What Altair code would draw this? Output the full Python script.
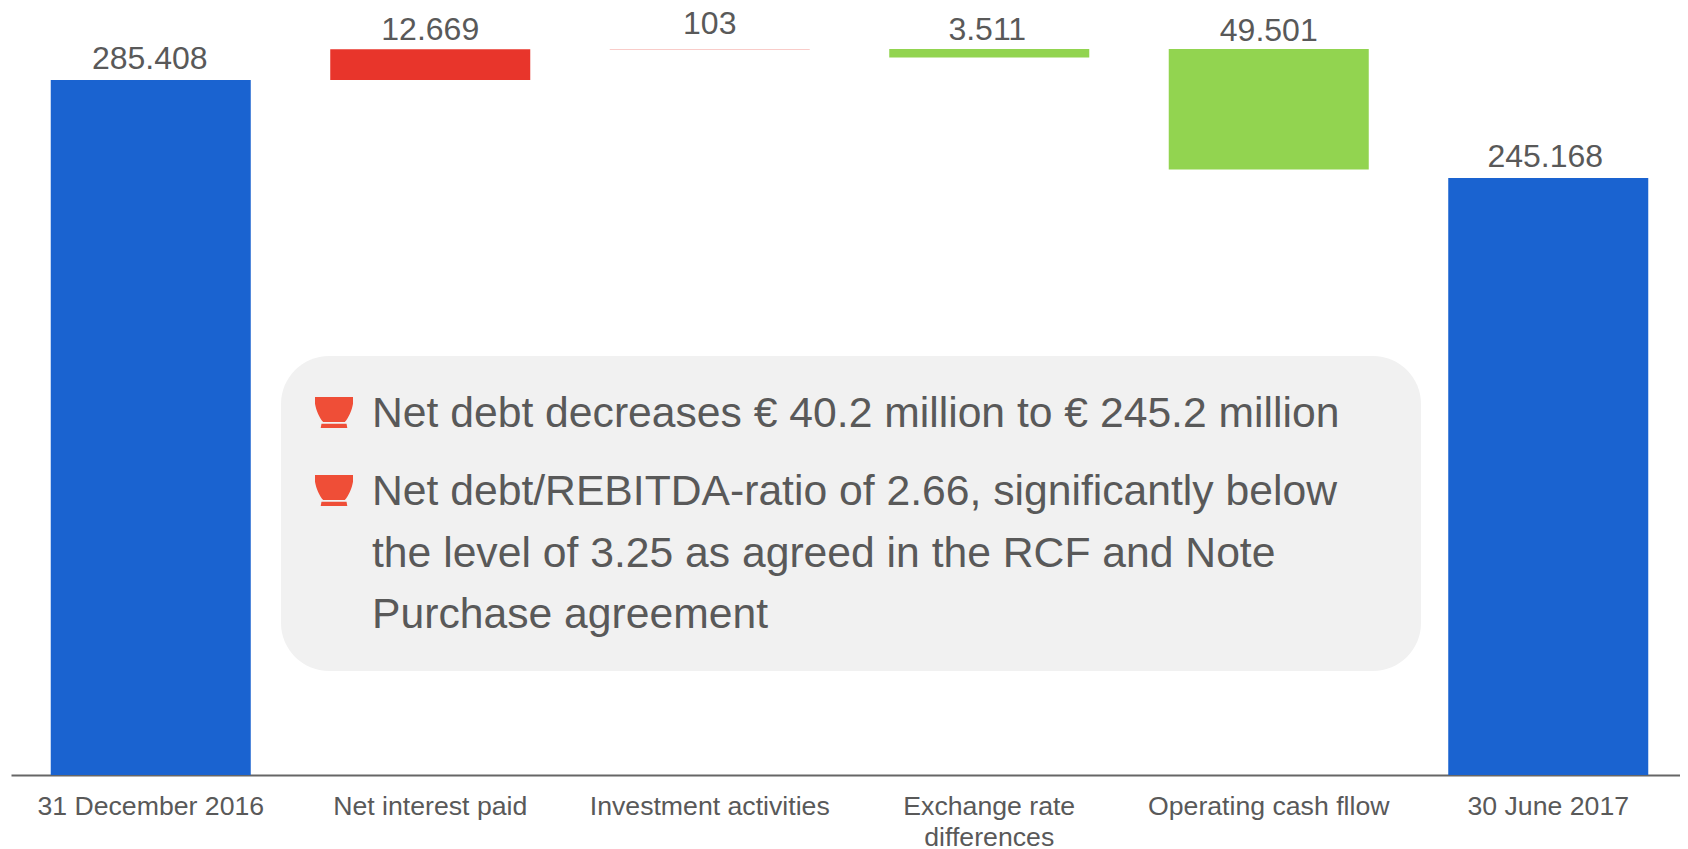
import altair as alt
import pandas as pd

categories = ["31 December 2016", "Net interest paid", "Investment activities",
              "Exchange rate|differences", "Operating cash fllow", "30 June 2017"]
starts = [0, 285408, 298077, 298180, 298180, 0]
ends = [285408, 298077, 298180, 294669, 248679, 245168]
labels = ["285.408", "12.669", "103", "3.511", "49.501", "245.168"]
kinds = ["total", "up", "up", "down", "down", "total"]
label_lift = [11, 9, 14.5, 9, 8, 11]
label_shift = [-1, 0, 0, -2, 0, -3]
bullet_lines = ["Net debt decreases € 40.2 million to € 245.2 million",
                "Net debt/REBITDA-ratio of 2.66, significantly below\nthe level of 3.25 as agreed in the RCF and Note\nPurchase agreement"]

df = pd.DataFrame({"cat": categories, "start": starts, "end": ends, "label": labels,
                   "kind": kinds})
df["top"] = df[["start", "end"]].max(axis=1)

FONT = "Liberation Sans"
TXT = "#595959"
BOWL = ("M-0.5,-0.408 L0.5,-0.408 L0.5,-0.233 C0.47,-0.05 0.38,0.14 0.285,0.25 L-0.285,0.25 "
        "C-0.38,0.14 -0.47,-0.05 -0.5,-0.233 Z "
        "M-0.33,0.294 L0.33,0.294 L0.35,0.408 L-0.35,0.408 Z")

x_scale = alt.Scale(range=[0, 1677], paddingInner=0.2844, paddingOuter=0.1422)
x = alt.X("cat:N", sort=categories, title=None, scale=x_scale,
          axis=alt.Axis(labelAngle=0, labelFontSize=26.67, labelColor=TXT, labelFont=FONT,
                        labelFontWeight="normal", ticks=False, domainColor="#666666", domainWidth=2,
                        labelPadding=18, labelLimit=400, labelLineHeight=31,
                        labelExpr="split(datum.label, '|')", grid=False))
y_scale = alt.Scale(domain=[0, 315000], nice=False)
y = alt.Y("start:Q", title=None, axis=None, scale=y_scale)

bars = alt.Chart(df).mark_bar().encode(
    x=x, y=y, y2="end:Q",
    color=alt.Color("kind:N", legend=None,
                    scale=alt.Scale(domain=["total", "up", "down"],
                                    range=["#1a63d0", "#e8352b", "#92d450"])))

value_layers = [
    alt.Chart(df.iloc[[i]]).mark_text(
        baseline="alphabetic", fontSize=32, font=FONT, color=TXT,
        dy=-label_lift[i], dx=label_shift[i]).encode(
        x=alt.X("cat:N", sort=categories, scale=x_scale),
        y=alt.Y("top:Q", scale=y_scale),
        text="label:N")
    for i in range(len(labels))
]

box_df = pd.DataFrame({"b": [0]})
box = alt.Chart(box_df).mark_rect(color="#f1f1f1", cornerRadius=48).encode(
    x=alt.value(270), x2=alt.value(1410), y=alt.value(348), y2=alt.value(663))

bullet1 = alt.Chart(box_df).mark_point(shape=BOWL, filled=True, opacity=1, color="#ef4e37", size=5776).encode(
    x=alt.value(323), y=alt.value(404.5))
bullet2 = alt.Chart(box_df).mark_point(shape=BOWL, filled=True, opacity=1, color="#ef4e37", size=5776).encode(
    x=alt.value(323), y=alt.value(482.5))

text1 = alt.Chart(pd.DataFrame({"t": [bullet_lines[0]]})).mark_text(
    align="left", baseline="middle", fontSize=42.67, font=FONT, color=TXT).encode(
    x=alt.value(361), y=alt.value(405.8), text="t:N")
text2 = alt.Chart(pd.DataFrame({"t": [bullet_lines[1]]})).mark_text(
    align="left", baseline="middle", fontSize=42.67, font=FONT, color=TXT, lineBreak="\n", lineHeight=61.4).encode(
    x=alt.value(361), y=alt.value(484.4), text="t:N")

chart = alt.layer(box, bars, *value_layers, bullet1, bullet2, text1, text2).properties(
    width=1669, height=767,
    autosize=alt.AutoSizeParams(type="none"),
    padding={"left": 3, "top": 0, "right": 0, "bottom": 82},
    background="white",
).configure_view(stroke=None)

chart.save("out.html", embed_options={"renderer": "svg", "actions": False})
